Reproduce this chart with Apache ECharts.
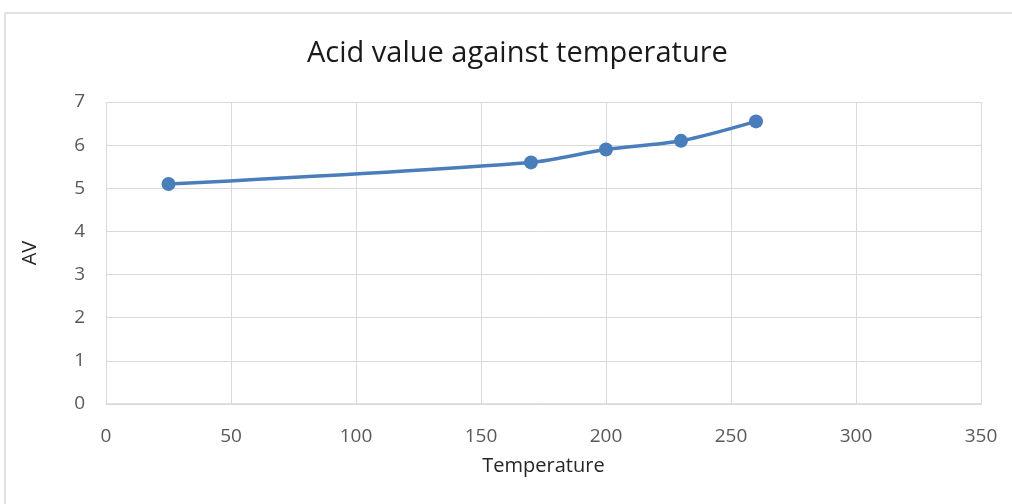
<!DOCTYPE html>
<html>
<head>
<meta charset="utf-8">
<script src="https://cdn.jsdelivr.net/npm/echarts@6/dist/echarts.min.js"></script>
<style>
  html, body { margin: 0; padding: 0; background: #fff; }
  #chart { width: 1012px; height: 504px; }
</style>
</head>
<body>
<div id="chart"></div>
<script>
// Dane
const temperatures = [25, 170, 200, 230, 260];
const acidValues = [5.1, 5.6, 5.9, 6.1, 6.55];

const chart = echarts.init(document.getElementById("chart"));
const labelFont = "'Open Sans', 'Liberation Sans', sans-serif";

const option = {
    backgroundColor: "#fff",
    animation: false,
    title: {
        text: "Acid value against temperature",
        left: 302,
        top: 34,
        textStyle: { fontFamily: labelFont, fontSize: 29, fontWeight: "normal", color: "#1a1a1a" }
    },
    graphic: [{
        type: "rect",
        shape: { x: 5, y: 13, width: 1200, height: 600 },
        style: { fill: "none", stroke: "#d9d9d9", lineWidth: 1.5 },
        silent: true
    }],
    grid: { left: 106, right: 31, top: 102, bottom: 100 },
    xAxis: {
        type: "value",
        min: 0,
        max: 350,
        interval: 50,
        name: "Temperature",
        nameLocation: "middle",
        nameGap: 52,
        nameTextStyle: { fontFamily: labelFont, fontSize: 20, color: "#262626" },
        axisLine: { show: true, lineStyle: { color: "#d9d9d9", width: 1.5 } },
        axisTick: { show: false },
        axisLabel: { fontFamily: labelFont, fontSize: 19, color: "#595959", margin: 23 },
        splitLine: { show: true, lineStyle: { color: "#d9d9d9", width: 1 } }
    },
    yAxis: {
        type: "value",
        min: 0,
        max: 7,
        interval: 1,
        name: "AV",
        nameLocation: "middle",
        nameGap: 66,
        nameTextStyle: { fontFamily: labelFont, fontSize: 20, color: "#262626" },
        axisLine: { show: false },
        axisTick: { show: false },
        axisLabel: { fontFamily: labelFont, fontSize: 19, color: "#595959", margin: 21 },
        splitLine: { show: true, lineStyle: { color: "#d9d9d9", width: 1 } }
    },
    series: [{
        name: "AV",
        type: "line",
        data: temperatures.map((t, i) => [t, acidValues[i]]),
        smooth: 0.3,
        symbol: "circle",
        symbolSize: 14,
        itemStyle: { color: "#4a7ebb" },
        lineStyle: { color: "#4a7ebb", width: 3.5 }
    }]
};

chart.setOption(option);
</script>
</body>
</html>
